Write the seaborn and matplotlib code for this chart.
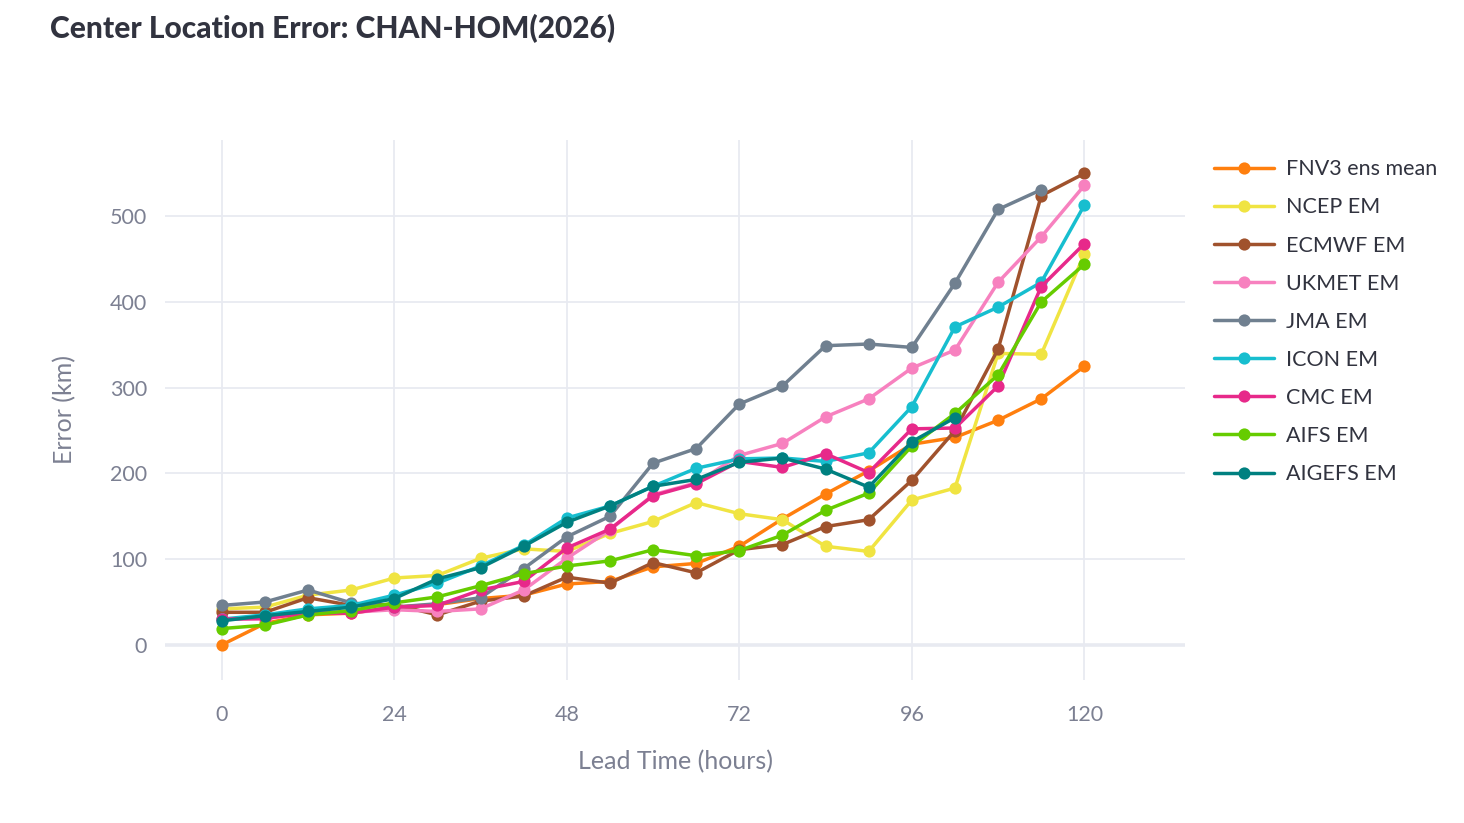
import numpy as np
import pandas as pd
import matplotlib
matplotlib.use("Agg")
import matplotlib.pyplot as plt
import seaborn as sns

# lead times (hours) and center location error (km) per model
lead_time = [0, 6, 12, 18, 24, 30, 36, 42, 48, 54, 60, 66, 72, 78, 84, 90, 96, 102, 108, 114, 120]

fnv3 = [0, 25, 35, 37, 44, 47, 54, 58, 71, 74, 91, 95, 115, 147, 176, 203, 234, 242, 262, 287, 325]
ncep = [42, 44, 58, 64, 78, 81, 101, 112, 109, 130, 144, 166, 153, 146, 115, 109, 169, 183, 340, 339, 456]
ecmwf = [38, 38, 55, 46, 47, 35, 51, 57, 79, 72, 96, 84, 111, 117, 138, 146, 192, 250, 345, 524, 550]
ukmet = [30, 30, 39, 38, 41, 39, 42, 64, 101, 134, 175, 189, 221, 235, 266, 287, 323, 344, 423, 476, 536]
jma = [46, 50, 64, 49, 44, 48, 55, 89, 126, 150, 212, 229, 281, 302, 349, 351, 347, 422, 508, 531, np.nan]
icon = [30, 35, 42, 46, 58, 72, 92, 116, 148, 162, 185, 206, 217, 218, 214, 224, 278, 371, 394, 423, 513]
cmc = [30, 31, 37, 37, 44, 46, 64, 74, 113, 135, 174, 188, 214, 207, 223, 201, 252, 253, 302, 418, 468]
aifs = [19, 23, 35, 40, 49, 56, 69, 83, 92, 98, 111, 104, 110, 128, 157, 177, 232, 270, 315, 400, 444]
aigefs = [28, 34, 39, 44, 54, 77, 90, 115, 143, 162, 185, 193, 213, 218, 205, 184, 237, 265, np.nan, np.nan, np.nan]

models = ["FNV3 ens mean", "NCEP EM", "ECMWF EM", "UKMET EM", "JMA EM",
          "ICON EM", "CMC EM", "AIFS EM", "AIGEFS EM"]
series = [fnv3, ncep, ecmwf, ukmet, jma, icon, cmc, aifs, aigefs]
colors = ["#FF7F0E", "#F0E442", "#A0522D", "#F781BF", "#708090",
          "#17BECF", "#E7298A", "#66CC00", "#008080"]

rows = []
for name, vals in zip(models, series):
    for t, v in zip(lead_time, vals):
        rows.append({"lead": t, "error": v, "model": name})
df = pd.DataFrame(rows).dropna()

sns.set_theme(style="white")
plt.rcParams['font.family'] = ['Lato', 'DejaVu Sans']

fig = plt.figure(figsize=(14.64, 8.23), dpi=100)
ax = fig.add_axes([165 / 1464, 1 - 680 / 823, 1020 / 1464, 540 / 823])

grid_c = "#E8EAF1"
for t in [0, 24, 48, 72, 96, 120]:
    ax.axvline(t, color=grid_c, lw=1.3, zorder=0)
for v in [100, 200, 300, 400, 500]:
    ax.axhline(v, color=grid_c, lw=1.3, zorder=0)
ax.axhline(0, color=grid_c, lw=2.6, zorder=0)

sns.lineplot(data=df, x="lead", y="error", hue="model", hue_order=models,
             palette=colors, marker="o", markersize=8.8, markeredgewidth=0,
             linewidth=2.5, ax=ax, legend=True)

ax.set_xlim(-7.9, 134)
ax.set_ylim(-41, 589)
ax.set_xticks([0, 24, 48, 72, 96, 120])
ax.set_yticks([0, 100, 200, 300, 400, 500])
for s in ax.spines.values():
    s.set_visible(False)
tick_c = "#7C8092"
ax.tick_params(axis="both", length=0, labelsize=15.5, labelcolor=tick_c)
ax.tick_params(axis="x", pad=18)
ax.tick_params(axis="y", pad=13)
ax.set_xlabel("Lead Time (hours)", fontsize=18, color=tick_c, labelpad=18)
ax.set_ylabel("Error (km)", fontsize=18, color=tick_c, labelpad=24)

fig.text(50 / 1464, 1 - 29 / 823, "Center Location Error: CHAN-HOM(2026)",
         fontsize=21.5, fontweight="black", color="#31333F", va="center", ha="left")

handles, labels = ax.get_legend_handles_labels()
ax.legend(handles, labels, loc="upper left", bbox_to_anchor=(1.02, 0.98),
          frameon=False, fontsize=15.5, handlelength=2.8, handletextpad=0.55,
          labelspacing=0.84, labelcolor="#31333F", borderaxespad=0)

fig.savefig("out.png", dpi=100)
